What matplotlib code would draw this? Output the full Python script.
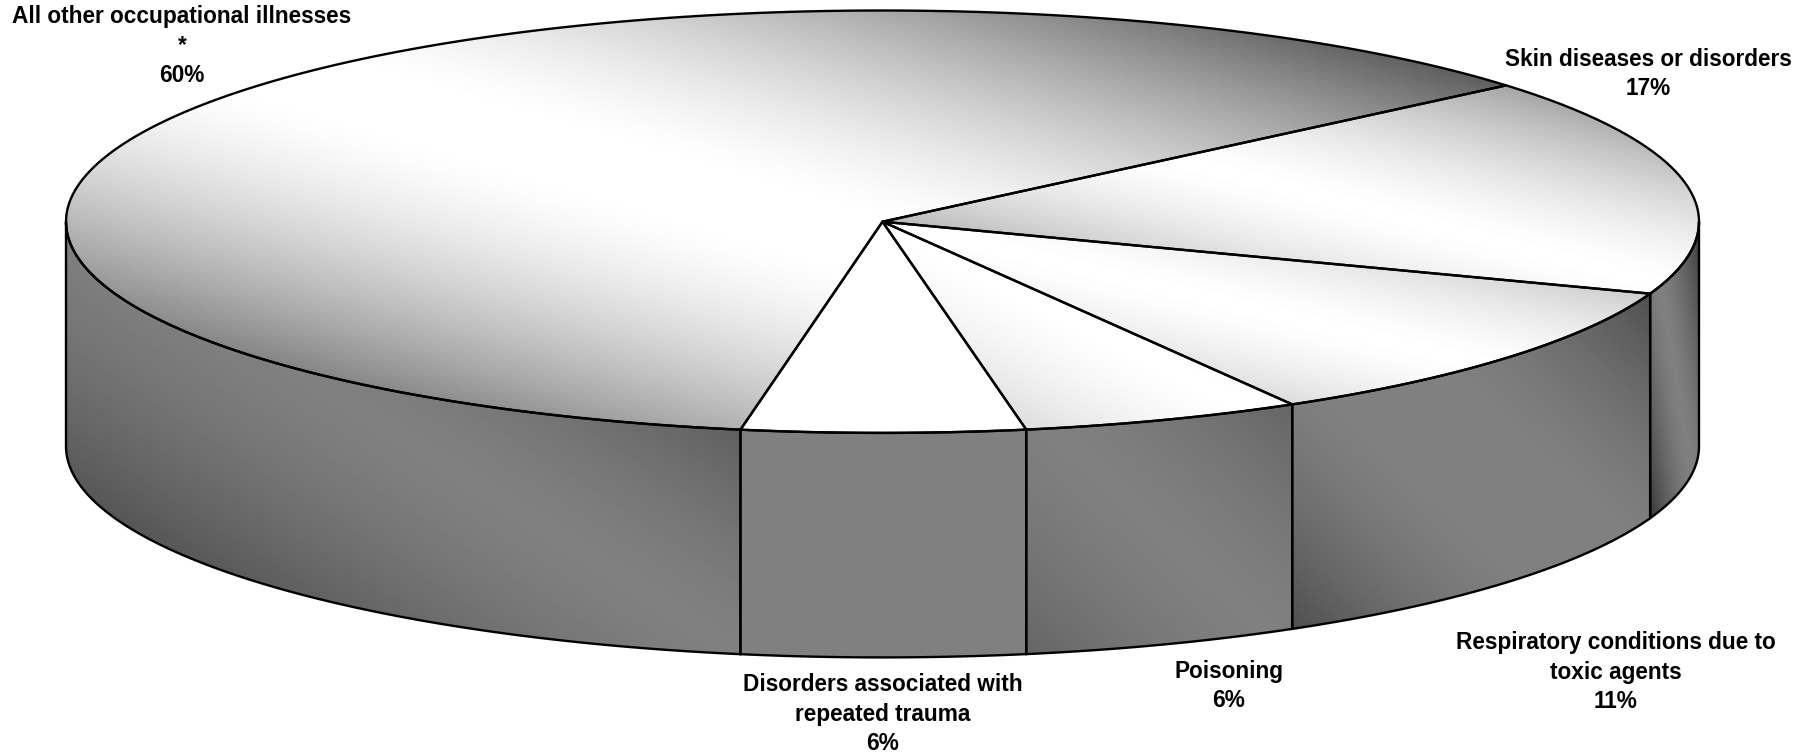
import matplotlib
matplotlib.use("Agg")
import matplotlib.pyplot as plt
from matplotlib.patches import Polygon
import numpy as np

plt.rcParams["font.family"] = ["Liberation Sans", "DejaVu Sans"]

# Slices, clockwise from the upper right
labels = [
    "Skin diseases or disorders\n17%",
    "Respiratory conditions due to\ntoxic agents\n11%",
    "Poisoning\n6%",
    "Disorders associated with\nrepeated trauma\n6%",
    "All other occupational illnesses\n*\n60%",
]
# share of the circle as drawn (the printed labels are rounded differently)
shares = [16.7, 11.1, 5.55, 5.6, 61.05]
start_angle = 40.2

# Label centres in pixels
label_x = [1648, 1616, 1229, 883, 182]
label_y = [74, 672, 686, 714, 46]

# Gradient strength per slice: fall off and width of the flat middle band
top_k = [380, 310, 185, 0, 680]
top_p = [0.0, 0.0, 0.0, 0.0, 0.03]
side_k = [200, 190, 75, 0, 245]
side_p = [0.0, 0.10, 0.0, 0.0, 0.0]

# Pie geometry in pixels
cx, cy = 882.5, 221.7
rx, ry = 816.5, 211.2
depth = 224.5


def arc(a0, a1, dy=0.0):
    ang = np.radians(np.linspace(a0, a1, 200))
    return np.column_stack([cx + rx * np.cos(ang), cy - ry * np.sin(ang) + dy])


def fill_gradient(ax, verts, base, k, p):
    x0, y0 = verts.min(axis=0)
    x1, y1 = verts.max(axis=0)
    u, v = np.meshgrid(np.linspace(0, 1, 600), np.linspace(0, 1, 400))
    off = np.abs((u - v + 1) / 2 - 0.5)
    grey = np.clip(base - k * np.maximum(off - p, 0) ** 1.5, 0, 255)
    im = ax.imshow(grey, cmap="gray", vmin=0, vmax=255, extent=(x0, x1, y1, y0),
                   aspect="auto", interpolation="bilinear", zorder=1)
    clip = Polygon(verts, closed=True, transform=ax.transData)
    im.set_clip_path(clip)


fig = plt.figure(figsize=(18.14, 7.55), dpi=100)
ax = fig.add_axes([0, 0, 1, 1])

angles = start_angle - np.concatenate([[0], np.cumsum(shares)]) * 3.6

for i in range(len(shares)):
    a0, a1 = angles[i], angles[i + 1]

    # outer wall, only the part on the front half shows
    s0, s1 = min(a0, 0), max(a1, -180)
    if s0 > s1:
        wall = np.vstack([arc(s0, s1), arc(s1, s0, depth)])
        fill_gradient(ax, wall, 128, side_k[i], side_p[i])
        ax.add_patch(Polygon(wall, closed=True, fill=False, ec="black", lw=1.7, zorder=2))

    # top face
    top = np.vstack([[[cx, cy]], arc(a0, a1)])
    fill_gradient(ax, top, 255, top_k[i], top_p[i])
    ax.add_patch(Polygon(top, closed=True, fill=False, ec="black", lw=1.7,
                         joinstyle="round", zorder=3))

    ax.text(label_x[i], label_y[i], labels[i], ha="center", va="center",
            fontsize=16.3, fontweight="bold", linespacing=1.38, color="black", zorder=4)

ax.set_xlim(0, 1814)
ax.set_ylim(755, 0)
ax.axis("off")

fig.savefig("out.png", dpi=100, facecolor="white")
